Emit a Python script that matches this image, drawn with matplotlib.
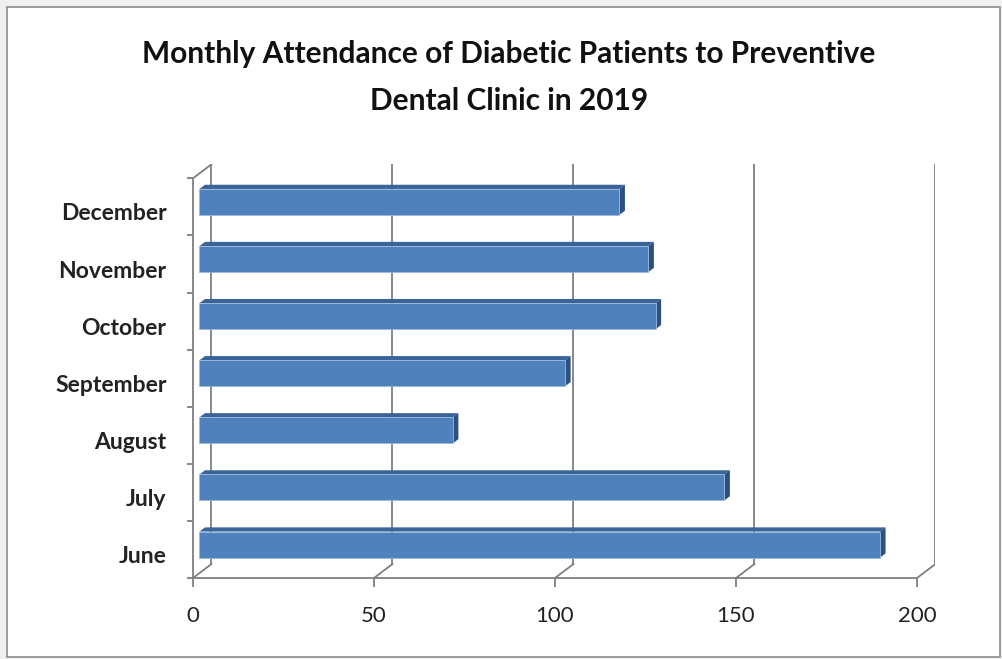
import numpy as np
import matplotlib
matplotlib.use("Agg")
import matplotlib.pyplot as plt
from matplotlib.patches import Polygon, Rectangle

months = ["June", "July", "August", "September", "October", "November", "December"]
attendance = [188, 145, 70, 101, 126, 124, 116]
xticks = [0, 50, 100, 150, 200]
title = "Monthly Attendance of Diabetic Patients to Preventive\nDental Clinic in 2019"

plt.rcParams["font.family"] = ["Lato", "DejaVu Sans"]

W, H = 1003, 659
fig = plt.figure(figsize=(W / 100, H / 100), dpi=100)
fig.patch.set_facecolor("#f0f0f0")
fig.patches.append(Rectangle((7 / W, 2 / H), 993 / W, 650 / H, transform=fig.transFigure,
                             facecolor="white", edgecolor="#8c8c8c", lw=1.2, zorder=-5))

# depth of the fake 3d box (data units)
DX, DY = 5.1, 0.245
XMAX = 200
# axes placed in pixels: x 0 -> 193px, y 0 -> 578px (from top)
pxx = 3.62
pxy = 57.1
left, bottom = 193, 578
ax_w = (XMAX + DX) * pxx
ax_h = (7 + DY) * pxy
ax = fig.add_axes([left / W, (H - bottom) / H, ax_w / W, ax_h / H])
ax.set_zorder(2)
ax.set_xlim(0, XMAX + DX)
ax.set_ylim(0, 7 + DY)
ax.patch.set_alpha(0)

grid_c = "#7f7f7f"
lw = 1.3

# back wall gridlines + floor diagonals
for v in xticks:
    ax.plot([v + DX, v + DX], [DY, 7 + DY], color=grid_c, lw=lw, zorder=1)
    ax.plot([v, v + DX], [0, DY], color=grid_c, lw=lw, zorder=1)
# top-left diagonal of side wall
ax.plot([0, DX], [7, 7 + DY], color=grid_c, lw=lw, zorder=1)

# spines as front edges
for s in ["top", "right"]:
    ax.spines[s].set_visible(False)
ax.spines["left"].set_bounds(0, 7)
ax.spines["bottom"].set_bounds(0, XMAX)
for s in ["left", "bottom"]:
    ax.spines[s].set_color(grid_c)
    ax.spines[s].set_linewidth(lw)

ax.set_xticks(xticks)
ax.set_xticklabels([str(v) for v in xticks], fontsize=16, color="#222222")
ax.tick_params(axis="x", length=6.5, width=lw, color=grid_c, pad=14)

ax.set_yticks(np.arange(len(months)) + 0.41)
ax.set_yticklabels(months, fontsize=16.5, fontweight="bold", color="#222222")
ax.set_yticks(np.arange(len(months) + 1), minor=True)
ax.tick_params(axis="y", which="major", length=0, pad=19)
ax.tick_params(axis="y", which="minor", length=4.5, width=lw, color=grid_c)

# 3d bars
a, b = 0.35, 0.3   # front face depth fraction, bar depth fraction
bh = 0.455
front_c = "#4f81bd"
top_c = "#3a6397"
side_c = "#2d5080"
for i, v in enumerate(attendance):
    x0 = a * DX
    y0 = i + 0.5 - bh / 2 + a * DY
    ddx, ddy = b * DX, b * DY
    ax.add_patch(Polygon([(x0, y0 + bh), (x0 + v, y0 + bh), (x0 + v + ddx, y0 + bh + ddy),
                          (x0 + ddx, y0 + bh + ddy)], closed=True, facecolor=top_c,
                         edgecolor="none", zorder=3))
    ax.add_patch(Polygon([(x0 + v, y0), (x0 + v + ddx, y0 + ddy), (x0 + v + ddx, y0 + bh + ddy),
                          (x0 + v, y0 + bh)], closed=True, facecolor=side_c,
                         edgecolor="none", zorder=3))
    ax.add_patch(Rectangle((x0, y0), v, bh, facecolor=front_c, edgecolor="#9bb9de",
                           lw=0.6, zorder=4))

fig.text(509 / W, 1 - 77.5 / H, title, ha="center", va="center", fontsize=21.5,
         fontweight="bold", color="#111111", linespacing=1.85)

fig.savefig("out.png", dpi=100, facecolor=fig.get_facecolor())
